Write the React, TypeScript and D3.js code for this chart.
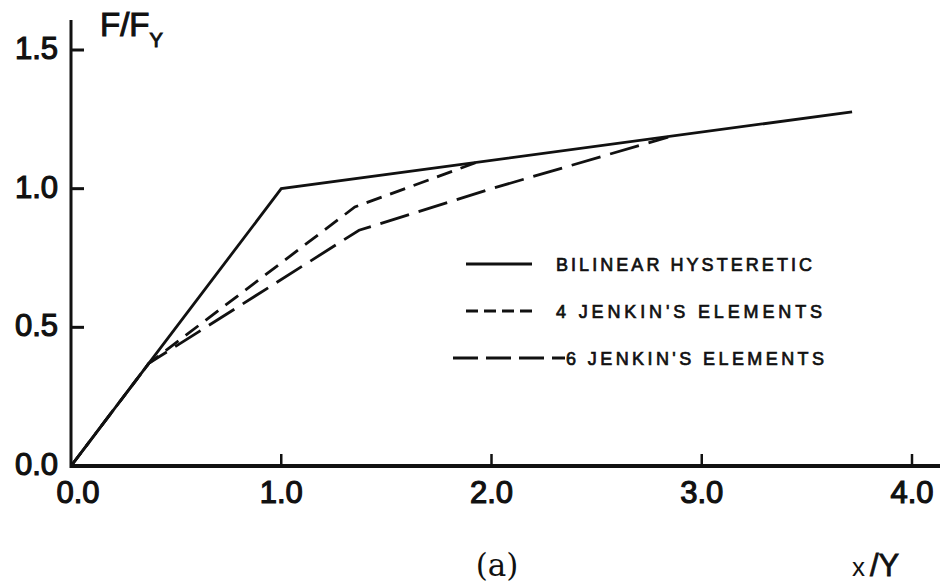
import React from "react";
import * as d3 from "d3";

const xTicks = [1.0, 2.0, 3.0, 4.0];
const xTickLabels = ["0.0", "1.0", "2.0", "3.0", "4.0"];
const xLabelValues = [0, 1, 2, 3, 4];
const yTicks = [0.5, 1.0, 1.5];
const yLabelValues = [0.0, 0.5, 1.0, 1.5];
const yTickLabels = ["0.0", "0.5", "1.0", "1.5"];

const bilinearX = [0, 0.37, 1.0, 3.715];
const bilinearY = [0, 0.37, 1.0, 1.277];
const jenkin4X = [0, 0.37, 1.35, 1.93];
const jenkin4Y = [0, 0.37, 0.934, 1.095];
const jenkin6X = [0, 0.37, 1.37, 2.0, 2.84];
const jenkin6Y = [0, 0.37, 0.85, 1.0, 1.186];

const legendLabels = ["BILINEAR HYSTERETIC", "4 JENKIN'S ELEMENTS", "6 JENKIN'S ELEMENTS"];

const W = 943;
const H = 583;

export default function App() {
  const x = d3.scaleLinear().domain([0, 4]).range([71, 912]);
  const y = d3.scaleLinear().domain([0, 1.5]).range([466, 50]);
  const line = d3
    .line<[number, number]>()
    .x((d) => x(d[0]))
    .y((d) => y(d[1]));
  const pts = (xs: number[], ys: number[]) => xs.map((v, i) => [v, ys[i]] as [number, number]);

  const sans = "'Liberation Sans', Arial, Helvetica, sans-serif";
  const ink = "#111";

  return (
    <svg
      width={W}
      height={H}
      viewBox={`0 0 ${W} ${H}`}
      style={{ position: "absolute", left: 0, top: 0, background: "#fff" }}
    >
      <rect x={0} y={0} width={W} height={H} fill="#fff" />
      {/* axes */}
      <line x1={x(0)} x2={x(0)} y1={20} y2={y(0) + 2} stroke={ink} strokeWidth={3} />
      <line x1={x(0) - 1} x2={940} y1={y(0)} y2={y(0)} stroke={ink} strokeWidth={4} />
      {xTicks.map((t) => (
        <line key={"xt" + t} x1={x(t)} x2={x(t)} y1={y(0)} y2={y(0) - 12} stroke={ink} strokeWidth={2.5} />
      ))}
      {yTicks.map((t) => (
        <line key={"yt" + t} x1={x(0)} x2={x(0) + 13} y1={y(t)} y2={y(t)} stroke={ink} strokeWidth={3} />
      ))}
      {/* y tick labels */}
      {yLabelValues.map((v, i) => (
        <text
          key={"yl" + v}
          x={58}
          y={y(v) + 9}
          textAnchor="end"
          fontFamily={sans}
          fontSize={31}
          fill={ink}
          stroke={ink}
          strokeWidth={1.2}
        >
          {yTickLabels[i]}
        </text>
      ))}
      {/* x tick labels */}
      {xLabelValues.map((v, i) => (
        <text
          key={"xl" + v}
          x={x(v) + (i === 0 ? 7 : 0)}
          y={503}
          textAnchor="middle"
          fontFamily={sans}
          fontSize={31}
          fill={ink}
          stroke={ink}
          strokeWidth={1.2}
        >
          {xTickLabels[i]}
        </text>
      ))}
      {/* axis titles */}
      <text x={100} y={36} fontFamily={sans} fontSize={33} fill={ink} stroke={ink} strokeWidth={1}>
        F/F
        <tspan fontSize={20} dy={11}>Y</tspan>
      </text>
      <text x={852} y={576} fontFamily={sans} fontSize={26} fill={ink}>
        x<tspan dx={5} fontSize={31} stroke={ink} strokeWidth={0.8}>/Y</tspan>
      </text>
      <text x={497} y={576} textAnchor="middle" fontFamily="'DejaVu Serif', 'Liberation Serif', serif" fontSize={31} fill={ink}>
        (a)
      </text>
      {/* curves */}
      <path d={line(pts(jenkin6X, jenkin6Y)) || ""} fill="none" stroke={ink} strokeWidth={2.8} strokeDasharray="30 10" />
      <path d={line(pts(jenkin4X, jenkin4Y)) || ""} fill="none" stroke={ink} strokeWidth={2.8} strokeDasharray="16 9" />
      <path d={line(pts(bilinearX, bilinearY)) || ""} fill="none" stroke={ink} strokeWidth={2.8} />
      {/* legend */}
      <line x1={466} x2={532} y1={264} y2={264} stroke={ink} strokeWidth={2.8} />
      <line x1={466} x2={532} y1={311} y2={311} stroke={ink} strokeWidth={2.8} strokeDasharray="12 6" />
      <line x1={453} x2={565} y1={358} y2={358} stroke={ink} strokeWidth={2.8} strokeDasharray="25 8" />
      {legendLabels.map((s, i) => (
        <text
          key={s}
          x={i === 2 ? 566 : 556}
          y={[271, 318, 365][i]}
          fontFamily={sans}
          fontSize={18}
          fill={ink}
          stroke={ink}
          strokeWidth={0.7}
          textLength={i === 0 ? 256 : i === 1 ? 266 : 258}
          lengthAdjust="spacing"
        >
          {s}
        </text>
      ))}
    </svg>
  );
}
